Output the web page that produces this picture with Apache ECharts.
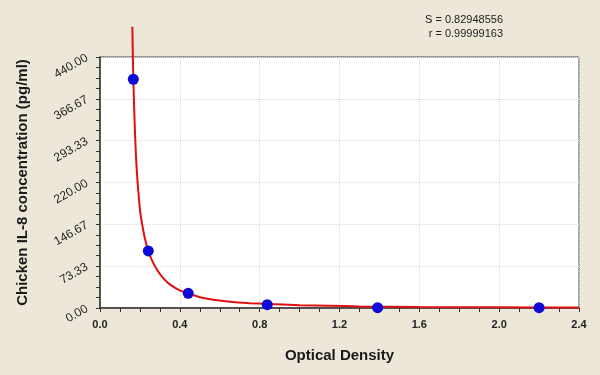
<!DOCTYPE html>
<html>
<head>
<meta charset="utf-8">
<script src="https://cdn.jsdelivr.net/npm/echarts@6/dist/echarts.min.js"></script>
<style>
html,body{margin:0;padding:0;background:#ece7d9;}
#chart{width:600px;height:375px;}
</style>
</head>
<body>
<div id="chart"></div>
<script>
// Standard points (OD, concentration)
var pointOD = [0.167, 0.242, 0.442, 0.838, 1.391, 2.200];
var pointConc = [401, 100, 25.7, 5.8, 0.6, 0.5];
// Fitted curve
var curveOD = [0.162, 0.167, 0.175, 0.184, 0.200, 0.212, 0.225, 0.242, 0.260, 0.284, 0.320, 0.351, 0.400, 0.442, 0.501, 0.568, 0.650, 0.750, 0.838, 1.000, 1.150, 1.300, 1.600, 2.000, 2.400];
var curveConc = [493, 401, 310, 243, 173, 145, 122, 100, 84, 68, 51, 41, 31, 25.7, 19, 14.5, 11, 8.5, 7, 5, 4, 2.8, 1.7, 1.2, 1.0];
var yTicks = ['0.00', '73.33', '146.67', '220.00', '293.33', '366.67', '440.00'];
var xTicks = ['0.0', '0.4', '0.8', '1.2', '1.6', '2.0', '2.4'];
var statS = 'S = 0.82948556';
var statR = 'r = 0.99999163';

var curve = curveOD.map(function(x, i){ return [x, curveConc[i]]; });
var pts = pointOD.map(function(x, i){ return [x, pointConc[i]]; });

var chart = echarts.init(document.getElementById('chart'));
var font = 'Arial, "Liberation Sans", sans-serif';
chart.setOption({
  backgroundColor: '#ece7d9',
  animation: false,
  grid: {left: 100, right: 21, top: 57, bottom: 67, show: true, backgroundColor: '#ffffff', borderColor: '#444', borderWidth: 1},
  graphic: [
    {type: 'text', right: 97, top: 14, style: {text: statS, font: '11px ' + font, fill: '#222', textAlign: 'right'}},
    {type: 'text', right: 97, top: 28, style: {text: statR, font: '11px ' + font, fill: '#222', textAlign: 'right'}}
  ],
  xAxis: {
    type: 'value', min: 0, max: 2.4, interval: 0.4,
    name: 'Optical Density', nameLocation: 'middle', nameGap: 40,
    nameTextStyle: {fontFamily: font, fontWeight: 'bold', fontSize: 15, color: '#1a1a1a'},
    axisLine: {lineStyle: {color: '#333', width: 1.5}},
    axisTick: {show: true, length: 4, lineStyle: {color: '#333'}},
    minorTick: {show: true, splitNumber: 4, length: 4, lineStyle: {color: '#333'}},
    splitLine: {show: true, lineStyle: {color: '#dcdcdc', type: 'dotted'}},
    axisLabel: {fontFamily: font, fontWeight: 'bold', fontSize: 11, color: '#222', margin: 11,
      formatter: function(v){ return xTicks[Math.round(v / 0.4)]; }}
  },
  yAxis: {
    type: 'value', min: 0, max: 440, interval: 440 / 6,
    name: 'Chicken IL-8 concentration (pg/ml)', nameLocation: 'middle', nameGap: 70,
    nameTextStyle: {fontFamily: font, fontWeight: 'bold', fontSize: 15, color: '#1a1a1a'},
    axisLine: {show: true, lineStyle: {color: '#333', width: 1.5}},
    axisTick: {show: true, length: 4, lineStyle: {color: '#333'}},
    minorTick: {show: true, splitNumber: 4, length: 4, lineStyle: {color: '#333'}},
    splitLine: {show: true, lineStyle: {color: '#dcdcdc', type: 'dotted'}},
    axisLabel: {fontFamily: font, fontSize: 12, color: '#222', rotate: 30, margin: 13,
      formatter: function(v){ return yTicks[Math.round(v / (440 / 6))]; }}
  },
  series: [
    {type: 'line', data: curve, showSymbol: false, smooth: 0.25, clip: false,
      lineStyle: {color: '#e01010', width: 2}, z: 2},
    {type: 'scatter', data: pts, symbolSize: 11, clip: false,
      itemStyle: {color: '#0c0cd6', opacity: 1}, z: 3}
  ]
});
</script>
</body>
</html>
